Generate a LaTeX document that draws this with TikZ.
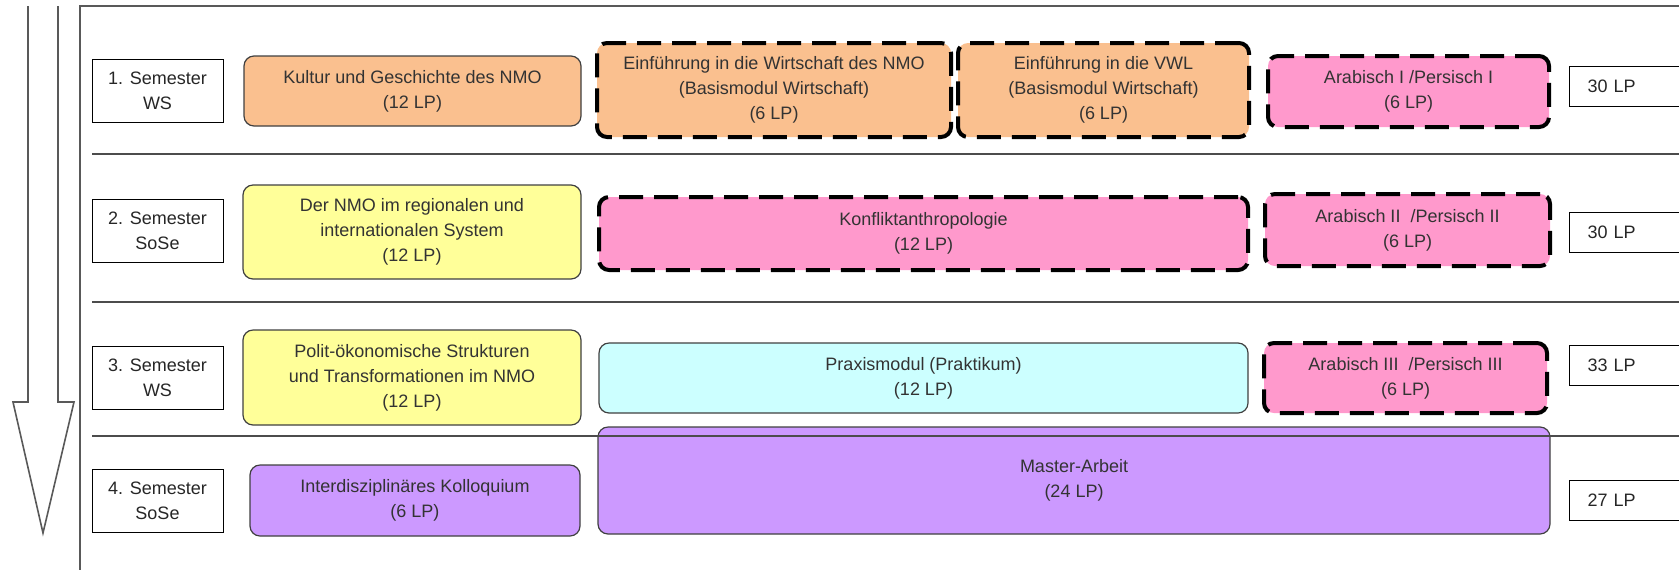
\documentclass[tikz,border=0pt]{standalone}
\usepackage{fontspec}
\setmainfont{Liberation Sans}
\usepackage{tikz}
\usetikzlibrary{calc}
\definecolor{orangeLP}{RGB}{250,192,143}
\definecolor{gelbLP}{RGB}{255,255,153}
\definecolor{rosaLP}{RGB}{255,153,204}
\definecolor{cyanLP}{RGB}{204,255,255}
\definecolor{lilaLP}{RGB}{204,153,255}
\tikzset{
  sem/.style={draw=black, line width=.5pt, minimum width=65.5pt, minimum height=31.5pt, align=center, text=black!85, inner sep=0pt},
  modul/.style={rounded corners=5pt, draw=black!75, line width=.6pt, align=center, text=black!80, inner sep=0pt},
  wahl/.style={modul, draw=black, line width=2pt, dash pattern=on 12pt off 5.5pt},
  lpbox/.style={draw=black, line width=.5pt, anchor=west, minimum height=20pt, text width=55pt, inner xsep=9pt, align=left, text=black!85},
  trenn/.style={black!70, line width=.8pt},
  rahmen/.style={black!65, line width=.8pt}
}

\begin{document}
\begin{tikzpicture}[x=.5pt, y=-.5pt, font=\fontsize{9}{12.5}\selectfont]
\path[use as bounding box, clip] (0,0) rectangle (1679,569);
\draw[rahmen] (28,6) -- (28,402) -- (13,402) -- (43,533) -- (74,402) -- (58,402) -- (58,6);
\draw[rahmen] (80,575) -- (80,6) -- (1690,6);

\node[sem] (s1) at (157.5,91) {1. Semester\\WS};
\node[sem] (s2) at (157.5,230.5) {2. Semester\\SoSe};
\node[sem] (s3) at (157.5,378) {3. Semester\\WS};
\node[sem] (s4) at (157.5,500.5) {4. Semester\\SoSe};

\node[modul, fill=orangeLP, minimum width=168.5pt, minimum height=35pt] (kultur) at (412.5,91) {Kultur und Geschichte des NMO\\(12 LP)};
\node[wahl, fill=orangeLP, minimum width=177pt, minimum height=47pt] (wirtnmo) at (774,90) {Einführung in die Wirtschaft des NMO\\(Basismodul Wirtschaft)\\(6 LP)};
\node[wahl, fill=orangeLP, minimum width=145.5pt, minimum height=47pt] (vwl) at (1103.5,90) {Einführung in die VWL\\(Basismodul Wirtschaft)\\(6 LP)};
\node[wahl, fill=rosaLP, minimum width=140.5pt, minimum height=35.5pt] (arab1) at (1408.5,91.5) {Arabisch I /Persisch I\\(6 LP)};
\node[lpbox] (lp1) at (1569,86) {30 LP};

\node[modul, fill=gelbLP, minimum width=169pt, minimum height=47pt] (regional) at (412,232) {Der NMO im regionalen und\\internationalen System\\(12 LP)};
\node[wahl, fill=rosaLP, minimum width=324.5pt, minimum height=36.5pt] (konflikt) at (923.5,233.5) {Konfliktanthropologie\\(12 LP)};
\node[wahl, fill=rosaLP, minimum width=142.5pt, minimum height=36pt] (arab2) at (1407.5,230) {Arabisch II~ /Persisch II\\(6 LP)};
\node[lpbox] (lp2) at (1569,232) {30 LP};

\node[modul, fill=gelbLP, minimum width=169pt, minimum height=47.5pt] (polit) at (412,377.5) {Polit-ökonomische Strukturen\\und Transformationen im NMO\\(12 LP)};
\node[modul, fill=cyanLP, minimum width=324.5pt, minimum height=35pt] (praxis) at (923.5,378) {Praxismodul (Praktikum)\\(12 LP)};
\node[wahl, fill=rosaLP, minimum width=141.5pt, minimum height=35pt] (arab3) at (1405.5,378) {Arabisch III~ /Persisch III\\(6 LP)};
\node[lpbox] (lp3) at (1569,365) {33 LP};

\node[modul, fill=lilaLP, minimum width=165pt, minimum height=35.5pt] (kolloq) at (415,500.5) {Interdisziplinäres Kolloquium\\(6 LP)};
\node[modul, fill=lilaLP, minimum width=476pt, minimum height=53.5pt] (master) at (1074,480.5) {Master-Arbeit\\(24 LP)};
\node[lpbox] (lp4) at (1569,500) {27 LP};

\draw[trenn] (92,154) -- (1690,154);
\draw[trenn] (92,302) -- (1690,302);
\draw[trenn] (92,436) -- (1690,436);
\end{tikzpicture}
\end{document}
